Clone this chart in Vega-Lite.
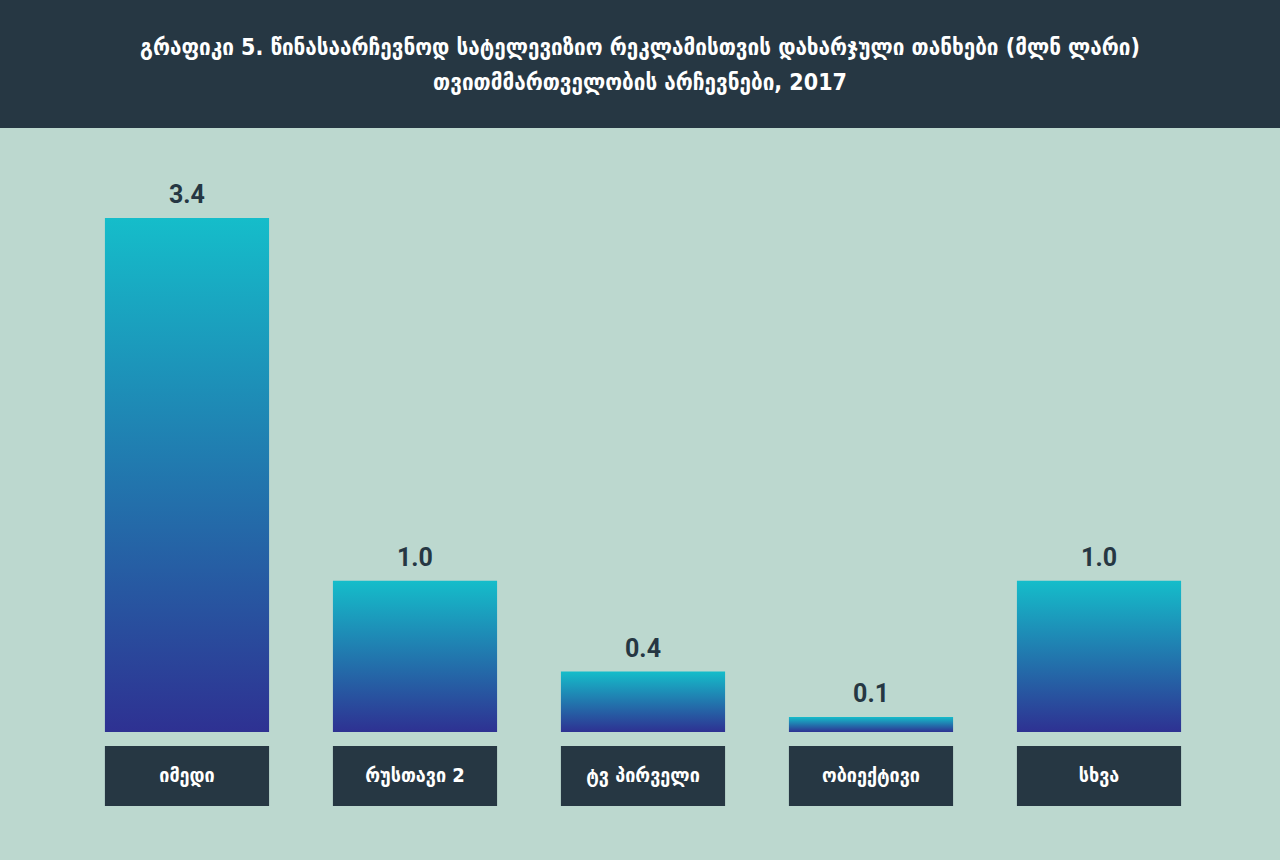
{
  "$schema": "https://vega.github.io/schema/vega-lite/v6.json",
  "description": "TV ad spending in the 2017 local elections, million GEL",
  "autosize": "none",
  "padding": {"top": 128, "left": 0, "right": 0, "bottom": 0},
  "width": 1280,
  "height": 732,
  "background": "#263743",
  "title": {
    "text": [
      "გრაფიკი 5. წინასაარჩევნოდ სატელევიზიო რეკლამისთვის დახარჯული თანხები (მლნ ლარი)",
      "თვითმმართველობის არჩევნები, 2017"
    ],
    "anchor": "middle",
    "frame": "group",
    "font": "DejaVu Sans Condensed",
    "fontSize": 23,
    "fontWeight": "bold",
    "color": "white",
    "lineHeight": 35,
    "offset": 33
  },
  "data": {
    "values": [
      {"channel": "იმედი", "value": 3.4},
      {"channel": "რუსთავი 2", "value": 1.0},
      {"channel": "ტვ პირველი", "value": 0.4},
      {"channel": "ობიექტივი", "value": 0.1},
      {"channel": "სხვა", "value": 1.0}
    ]
  },
  "encoding": {
    "x": {
      "field": "channel",
      "type": "nominal",
      "sort": null,
      "axis": null,
      "scale": {"range": [3, 1283], "paddingInner": 0.28, "paddingOuter": 0.447}
    }
  },
  "layer": [
    {
      "mark": {
        "type": "bar",
        "color": {
          "gradient": "linear",
          "x1": 0, "y1": 0, "x2": 0, "y2": 1,
          "stops": [
            {"offset": 0, "color": "#15bdca"},
            {"offset": 1, "color": "#2e3192"}
          ]
        }
      },
      "encoding": {
        "y": {
          "field": "value",
          "type": "quantitative",
          "axis": null,
          "scale": {"domain": [-0.8466, 3.995], "nice": false, "zero": false}
        }
      }
    },
    {
      "mark": {
        "type": "text",
        "baseline": "bottom",
        "dy": -10,
        "font": "Roboto",
        "fontSize": 25,
        "fontWeight": "bold",
        "color": "#263743"
      },
      "encoding": {
        "y": {"field": "value", "type": "quantitative"},
        "text": {"field": "value", "type": "quantitative", "format": ".1f"}
      }
    },
    {
      "mark": {"type": "bar", "color": "#263743"},
      "encoding": {
        "y": {"datum": -0.0926},
        "y2": {"datum": -0.4894}
      }
    },
    {
      "mark": {
        "type": "text",
        "baseline": "middle",
        "font": "DejaVu Sans Condensed",
        "fontSize": 20,
        "fontWeight": "bold",
        "color": "white"
      },
      "encoding": {
        "y": {"datum": -0.291},
        "text": {"field": "channel"}
      }
    }
  ],
  "config": {
    "view": {"fill": "#bcd8cf", "stroke": null}
  }
}
